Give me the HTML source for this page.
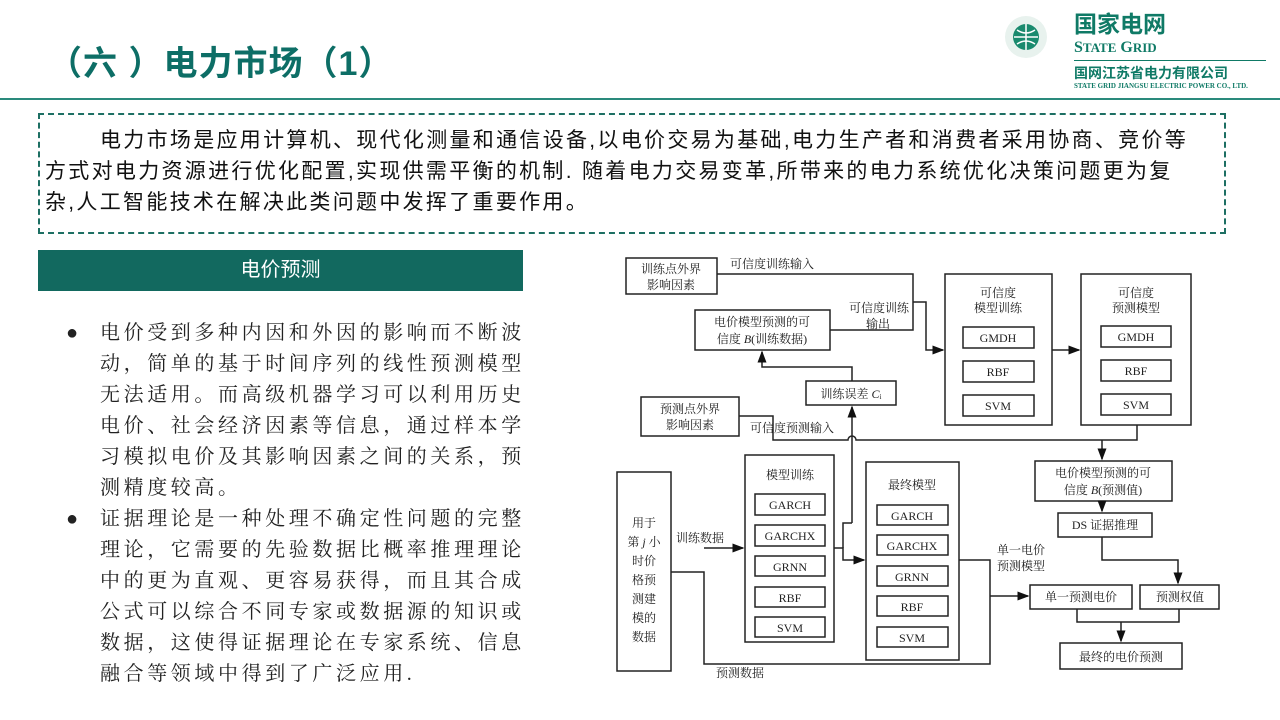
<!DOCTYPE html>
<html><head><meta charset="utf-8">
<style>
body{margin:0;width:1280px;height:720px;background:#fff;position:relative;overflow:hidden;font-family:"Liberation Sans","Noto Sans CJK SC",sans-serif}
.t{position:absolute;white-space:nowrap}
</style></head><body>
<div class="t" style="left:48px;top:36px;font-size:34px;font-weight:bold;color:#0d6e66;letter-spacing:1px">（六 ）电力市场（1）</div>
<div style="position:absolute;left:0;top:98px;width:1280px;height:2px;background:#2a8a7c"></div>
<!-- logo -->
<svg style="position:absolute;left:1000px;top:10px" width="60" height="56"><circle cx="26" cy="27" r="21" fill="#e8f2ee"/><circle cx="26" cy="27" r="13" fill="#1a8a6e"/><path d="M14 27h24M26 14v26M17 20q9 6 18 0M17 34q9-6 18 0" stroke="#fff" stroke-width="1.5" fill="none"/></svg>
<div class="t" style="left:1074px;top:10px;font-size:23px;line-height:28px;font-weight:bold;color:#0f7a66">国家电网</div>
<div class="t" style="left:1074px;top:39px;font-size:16px;line-height:18px;font-weight:bold;color:#0f7a66;font-family:'Liberation Serif',serif">S<span style="font-size:13px">TATE</span> G<span style="font-size:13px">RID</span></div>
<div style="position:absolute;left:1074px;top:60px;width:192px;height:1px;background:#0f7a66"></div>
<div class="t" style="left:1074px;top:63px;font-size:14px;font-weight:bold;color:#0f7a66">国网江苏省电力有限公司</div>
<div class="t" style="left:1074px;top:82px;font-size:7px;font-weight:bold;color:#0f7a66;font-family:'Liberation Serif',serif">STATE GRID JIANGSU ELECTRIC POWER CO., LTD.</div>
<!-- dashed box -->
<div style="position:absolute;left:38px;top:113px;width:1184px;height:117px;border:2px dashed #1d6f63"></div>
<div class="t" style="left:45px;top:125px;font-size:21px;letter-spacing:2.3px;line-height:31px;color:#111"><span style="display:inline-block;width:55px"></span>电力市场是应用计算机、现代化测量和通信设备,以电价交易为基础,电力生产者和消费者采用协商、竞价等<br>方式对电力资源进行优化配置,实现供需平衡的机制. 随着电力交易变革,所带来的电力系统优化决策问题更为复<br>杂,人工智能技术在解决此类问题中发挥了重要作用。</div>
<div style="position:absolute;left:38px;top:250px;width:485px;height:41px;background:#12695f;color:#fff;font-size:20px;line-height:41px;text-align:center">电价预测</div>
<div class="t" style="left:66px;top:318px;font-size:20px;line-height:31px;color:#222">●<br><br><br><br><br><br>●</div>
<div class="t" style="left:100px;top:318px;font-size:20px;letter-spacing:3.6px;line-height:31px;color:#222;font-family:'Liberation Serif','Noto Serif CJK SC',serif">电价受到多种内因和外因的影响而不断波<br>动，简单的基于时间序列的线性预测模型<br>无法适用。而高级机器学习可以利用历史<br>电价、社会经济因素等信息，通过样本学<br>习模拟电价及其影响因素之间的关系，预<br>测精度较高。<br>证据理论是一种处理不确定性问题的完整<br>理论，它需要的先验数据比概率推理理论<br>中的更为直观、更容易获得，而且其合成<br>公式可以综合不同专家或数据源的知识或<br>数据，这使得证据理论在专家系统、信息<br>融合等领域中得到了广泛应用.</div>
<svg style="position:absolute;left:0;top:0" width="1280" height="720" font-family="Liberation Serif,Noto Serif CJK SC,serif" font-size="12" fill="#222">
<defs><marker id="a" markerWidth="8" markerHeight="8" refX="7" refY="4" orient="auto"><path d="M0,1 L8,4 L0,7 Z" fill="#111"/></marker></defs>
<g fill="none" stroke="#222" stroke-width="1.5">
<rect x="626" y="258" width="91" height="36"/>
<rect x="695" y="310" width="135" height="40"/>
<rect x="806" y="381" width="90" height="24"/>
<rect x="641" y="397" width="98" height="39"/>
<rect x="617" y="472" width="54" height="199"/>
<rect x="745" y="455" width="89" height="187"/>
<rect x="755" y="494" width="70" height="21"/><rect x="755" y="525" width="70" height="21"/><rect x="755" y="556" width="70" height="20"/><rect x="755" y="587" width="70" height="20"/><rect x="755" y="617" width="70" height="20"/>
<rect x="866" y="462" width="93" height="198"/>
<rect x="877" y="505" width="71" height="20"/><rect x="877" y="535" width="71" height="20"/><rect x="877" y="566" width="71" height="20"/><rect x="877" y="596" width="71" height="20"/><rect x="877" y="627" width="71" height="20"/>
<rect x="945" y="274" width="107" height="151"/>
<rect x="963" y="327" width="71" height="21"/><rect x="963" y="361" width="71" height="21"/><rect x="963" y="395" width="71" height="21"/>
<rect x="1081" y="274" width="110" height="151"/>
<rect x="1101" y="326" width="70" height="21"/><rect x="1101" y="360" width="70" height="21"/><rect x="1101" y="394" width="70" height="21"/>
<rect x="1035" y="461" width="137" height="40"/>
<rect x="1058" y="513" width="94" height="24"/>
<rect x="1030" y="585" width="102" height="24"/>
<rect x="1140" y="585" width="79" height="24"/>
<rect x="1060" y="643" width="122" height="26"/>
<path d="M717 274H913V330H830"/>
<path d="M913 302H926V350H943" marker-end="url(#a)"/>
<path d="M852 381V367H762V352" marker-end="url(#a)"/>
<path d="M739 416H773V440H848a4 4 0 0 1 8 0H1137V425"/>
<path d="M852 523V407" marker-end="url(#a)"/>
<path d="M1102 440V459" marker-end="url(#a)"/>
<path d="M1052 350H1079" marker-end="url(#a)"/>
<path d="M1102 501V511" marker-end="url(#a)"/>
<path d="M1102 537V560H1178V583" marker-end="url(#a)"/>
<path d="M1077 609V622H1179V609M1121 622V641" marker-end="url(#a)"/>
<path d="M671 572H704V664H990V560H959"/>
<path d="M704 548H743" marker-end="url(#a)"/>
<path d="M834 548H843V560H864" marker-end="url(#a)"/>
<path d="M852 523H843V548"/>
<path d="M990 596H1028" marker-end="url(#a)"/>
</g>
<g text-anchor="middle">
<text x="671" y="273">训练点外界</text><text x="671" y="289">影响因素</text>
<text x="762" y="326">电价模型预测的可</text><text x="762" y="343">信度 <tspan font-style="italic">B</tspan>(训练数据)</text>
<text x="851" y="398">训练误差 <tspan font-style="italic">C</tspan>ᵢ</text>
<text x="690" y="413">预测点外界</text><text x="690" y="429">影响因素</text>
<text x="644" y="527">用于</text><text x="644" y="546">第 <tspan font-style="italic">j</tspan> 小</text><text x="644" y="565">时价</text><text x="644" y="584">格预</text><text x="644" y="603">测建</text><text x="644" y="622">模的</text><text x="644" y="641">数据</text>
<text x="790" y="479">模型训练</text>
<text x="790" y="509">GARCH</text><text x="790" y="540">GARCHX</text><text x="790" y="571">GRNN</text><text x="790" y="602">RBF</text><text x="790" y="632">SVM</text>
<text x="912" y="489">最终模型</text>
<text x="912" y="520">GARCH</text><text x="912" y="550">GARCHX</text><text x="912" y="581">GRNN</text><text x="912" y="611">RBF</text><text x="912" y="642">SVM</text>
<text x="998" y="297">可信度</text><text x="998" y="312">模型训练</text>
<text x="998" y="342">GMDH</text><text x="998" y="376">RBF</text><text x="998" y="410">SVM</text>
<text x="1136" y="297">可信度</text><text x="1136" y="312">预测模型</text>
<text x="1136" y="341">GMDH</text><text x="1136" y="375">RBF</text><text x="1136" y="409">SVM</text>
<text x="1103" y="477">电价模型预测的可</text><text x="1103" y="494">信度 <tspan font-style="italic">B</tspan>(预测值)</text>
<text x="1105" y="529">DS 证据推理</text>
<text x="1081" y="601">单一预测电价</text>
<text x="1180" y="601">预测权值</text>
<text x="1121" y="661">最终的电价预测</text>
</g>
<text x="730" y="268">可信度训练输入</text>
<text x="849" y="312">可信度训练</text><text x="866" y="328">输出</text>
<text x="750" y="432">可信度预测输入</text>
<text x="676" y="542">训练数据</text>
<text x="716" y="677">预测数据</text>
<text x="997" y="554">单一电价</text><text x="997" y="570">预测模型</text>
</svg>
</body></html>
